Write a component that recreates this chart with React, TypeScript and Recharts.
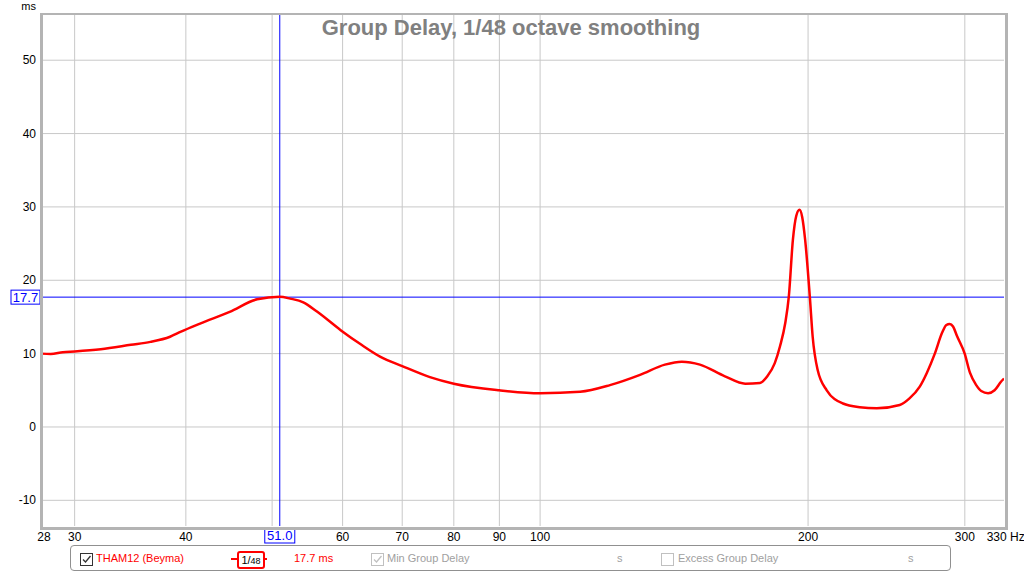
import React from 'react'
import { LineChart, Line, XAxis, YAxis, CartesianGrid, ReferenceLine } from 'recharts'

// frequency (Hz) and group delay (ms)
const freqs = [
  27.5, 28.2, 29.1, 30, 32.1, 34.7, 36.5, 38.4, 39.5, 41.5, 44.8, 48.1, 51, 52.4, 54.2,
  56.2, 59.7, 63, 66.1, 70, 75.2, 80, 90, 100, 110.9, 119.8, 129.5, 138.1, 144.3, 151.2, 161.3,
  170, 176.6, 180, 183.5, 186, 188.5, 190.3, 192.3, 194, 195.6, 197, 198.5, 200.9, 202.4, 205,
  209.9, 218.9, 228.6, 238.9, 253.5, 260, 267, 272, 277.6, 283, 286, 288.5, 291, 294, 299.9,
  304, 309, 313, 318.6, 324, 329.6, 332
]
const delays = [
  10.0, 9.95, 10.2, 10.3, 10.6, 11.2, 11.6, 12.3, 13.0, 14.1, 15.7, 17.4, 17.75, 17.5, 17.0,
  15.7, 13.2, 11.2, 9.6, 8.3, 6.8, 5.9, 5.0, 4.6, 4.8, 5.7, 7.1, 8.5, 8.9, 8.5, 6.9,
  5.9, 6.0, 6.9, 8.7, 11.0, 14.1, 17.8, 25.5, 28.8, 29.6, 28.6, 25.5, 17.8, 12.3, 7.8,
  5.0, 3.2, 2.7, 2.55, 3.0, 3.9, 5.5, 7.4, 10.0, 12.9, 13.9, 14.05, 13.7, 12.4, 10.0,
  7.4, 5.7, 4.9, 4.6, 5.0, 6.2, 6.6
]
const xTicks = [28, 30, 40, 60, 70, 80, 90, 100, 200, 300, 330]
const xGrid = [30, 40, 50, 60, 70, 80, 90, 100, 200, 300]
const yTicks = [-10, 0, 10, 20, 30, 40, 50]
const cursorFreq = 51.0
const cursorDelay = 17.7

const data = freqs.map((f, i) => ({ f, gd: delays[i] }))

const font = '"Liberation Sans", Arial, sans-serif'

const XTick = (props: any) => {
  const { x, y, payload } = props
  if (payload.value === 330) {
    return (
      <text x={x - 15} y={y + 7} fontSize={12} fontFamily={font} fill="#000" textAnchor="start">
        330 Hz
      </text>
    )
  }
  const dx = payload.value === 28 ? -4 : 0
  return (
    <text x={x + dx} y={y + 7} fontSize={12} fontFamily={font} fill="#000" textAnchor="middle">
      {payload.value}
    </text>
  )
}

const YTick = (props: any) => {
  const { x, y, payload } = props
  return (
    <text x={x + 3} y={y + 4} fontSize={12} fontFamily={font} fill="#000" textAnchor="end">
      {payload.value}
    </text>
  )
}

const FreqBox = (props: any) => {
  const { x, y, height } = props.viewBox
  return (
    <g>
      <rect x={x - 15} y={y + height + 2} width={30} height={15} fill="#fff" stroke="#0000ff" strokeWidth={1} />
      <text x={x} y={y + height + 14} fontSize={13} fontFamily={font} fill="#0000ff" textAnchor="middle">
        {cursorFreq.toFixed(1)}
      </text>
    </g>
  )
}

const DelayBox = (props: any) => {
  const { x, y } = props.viewBox
  return (
    <g>
      <rect x={x - 30} y={y - 7} width={29} height={14} fill="#fff" stroke="#0000ff" strokeWidth={1} />
      <text x={x - 15.5} y={y + 5} fontSize={13} fontFamily={font} fill="#0000ff" textAnchor="middle">
        {cursorDelay.toFixed(1)}
      </text>
    </g>
  )
}

const Check = ({ checked, color }: { checked: boolean; color: string }) => (
  <span
    style={{
      display: 'inline-block', width: 11, height: 11, border: `1px solid ${color}`,
      position: 'relative', verticalAlign: 'middle', background: '#fff'
    }}
  >
    {checked && (
      <svg width={11} height={11} style={{ position: 'absolute', left: 0, top: 0 }}>
        <path d="M2 5.5 L4.5 8 L9.5 2" stroke={color} strokeWidth={1.3} fill="none" />
      </svg>
    )}
  </span>
)

export default function App() {
  return (
    <div style={{ position: 'absolute', left: 0, top: 0, width: 1024, height: 573, background: '#fff', fontFamily: font }}>
      <LineChart width={1024} height={573} data={data} margin={{ top: 14, right: 20, bottom: 27, left: 0 }}>
        <CartesianGrid stroke="#c8c8c8" verticalValues={xGrid} horizontalValues={yTicks} />
        <XAxis
          dataKey="f" type="number" scale="log" domain={[27.5, 332]} allowDataOverflow
          ticks={xTicks} tick={<XTick />} tickLine={false} axisLine={false} height={20} interval={0}
        />
        <YAxis
          type="number" domain={[-13.5, 56.3]} allowDataOverflow ticks={yTicks}
          tick={<YTick />} tickLine={false} axisLine={false} width={41} interval={0}
        />
        <ReferenceLine x={cursorFreq} stroke="#0000ff" strokeWidth={1} label={<FreqBox />} />
        <ReferenceLine y={cursorDelay} stroke="#0000ff" strokeWidth={1} label={<DelayBox />} />
        <Line
          type="monotone" dataKey="gd" stroke="#ff0000" strokeWidth={2.5} dot={false}
          isAnimationActive={false}
        />
        <text x={511} y={35} textAnchor="middle" fontSize={22} fontWeight="bold" fontFamily={font} fill="#808080">
          Group Delay, 1/48 octave smoothing
        </text>
        <text x={36} y={10} textAnchor="end" fontSize={11} fontFamily={font} fill="#000">
          ms
        </text>
      </LineChart>
      {/* plot frame */}
      <div
        style={{
          position: 'absolute', left: 40, top: 13, width: 962, height: 512,
          borderTop: '2px solid #b4b4b4', borderLeft: '3px solid #b4b4b4',
          borderRight: '3px solid #b4b4b4', borderBottom: '3px solid #b4b4b4', pointerEvents: 'none'
        }}
      />
      {/* legend panel */}
      <div
        style={{
          position: 'absolute', left: 70, top: 545, width: 881, height: 26, border: '1px solid #909090',
          borderRadius: 4, fontSize: 11, boxSizing: 'border-box'
        }}
      >
        <div style={{ position: 'absolute', left: 9, top: 6 }}><Check checked color="#333" /></div>
        <div style={{ position: 'absolute', left: 25, top: 6, color: '#ff0000' }}>THAM12 (Beyma)</div>
        <div style={{ position: 'absolute', left: 160, top: 12, width: 36, height: 2, background: '#ff0000' }} />
        <div
          style={{
            position: 'absolute', left: 166, top: 5, width: 24, height: 14, border: '2px solid #ff0000',
            borderRadius: 3, background: '#fff', fontSize: 11, textAlign: 'center', lineHeight: '14px', color: '#000'
          }}
        >
          1/<span style={{ fontSize: 9 }}>48</span>
        </div>
        <div style={{ position: 'absolute', left: 223, top: 6, color: '#ff0000' }}>17.7 ms</div>
        <div style={{ position: 'absolute', left: 300, top: 6 }}><Check checked color="#c0c0c0" /></div>
        <div style={{ position: 'absolute', left: 316, top: 6, color: '#a0a0a0' }}>Min Group Delay</div>
        <div style={{ position: 'absolute', left: 546, top: 6, color: '#a0a0a0' }}>s</div>
        <div style={{ position: 'absolute', left: 590, top: 6 }}><Check checked={false} color="#c0c0c0" /></div>
        <div style={{ position: 'absolute', left: 607, top: 6, color: '#a0a0a0' }}>Excess Group Delay</div>
        <div style={{ position: 'absolute', left: 837, top: 6, color: '#a0a0a0' }}>s</div>
      </div>
    </div>
  )
}
